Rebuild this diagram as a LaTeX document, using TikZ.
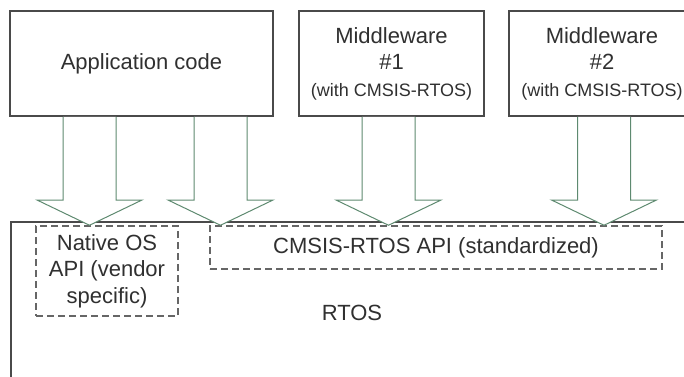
\documentclass[tikz,border=0pt]{standalone}
\usepackage{fontspec}
\setmainfont{Liberation Sans}
\definecolor{arrowgreen}{HTML}{5E8A70}
\definecolor{boxline}{HTML}{4A4A4A}
\definecolor{dashline}{HTML}{666666}
\definecolor{txt}{HTML}{303030}
\newcommand\blkarrow[3]{%
  \draw[blk] ({#1-26.5},0 |- #2.south) -- ({#1-26.5},200) -- ({#1-52.5},200)
    -- ({#1},0 |- #3.north) -- ({#1+52.5},200) -- ({#1+26.5},200)
    -- ({#1+26.5},0 |- #2.south);}
\begin{document}
\begin{tikzpicture}[x=1pt,y=-1pt,
  box/.style={draw=boxline,line width=1.5pt,fill=white,text=txt,align=center,inner sep=0pt},
  dbox/.style={draw=dashline,line width=1.5pt,dash pattern=on 7pt off 4pt,text=txt,align=center,inner sep=0pt},
  blk/.style={draw=arrowgreen,line width=1pt,fill=white,line join=miter},
  big/.style={font=\fontsize{22}{26.5}\selectfont},
]
\useasboundingbox (0,0) rectangle (684,376);
\clip (0,0) rectangle (684,376);
\node[box,big,minimum width=263pt,minimum height=105pt] (app) at (141.5,63.5) {Application code};
\node[box,big,minimum width=185pt,minimum height=105pt] (mw1) at (391.5,63.5)
  {Middleware\\\#1\\{\fontsize{18}{24}\selectfont (with CMSIS-RTOS)}};
\node[box,big,minimum width=186pt,minimum height=105pt] (mw2) at (602,63.5)
  {Middleware\\\#2\\{\fontsize{18}{24}\selectfont (with CMSIS-RTOS)}};
\node[box,minimum width=700pt,minimum height=200pt,anchor=north west] (rtos) at (10,221) {};
\node[dbox,big,minimum width=142pt,minimum height=90pt] (native) at (107,271)
  {Native OS\\API (vendor\\specific)};
\node[dbox,big,minimum width=452pt,minimum height=43pt] (cmsis) at (436,247.5)
  {CMSIS-RTOS API (standardized)};
\node[big,text=txt] (rtoslbl) at (352,313) {RTOS};
\blkarrow{89.5}{app}{native}
\blkarrow{220.5}{app}{cmsis}
\blkarrow{388.5}{mw1}{cmsis}
\blkarrow{604}{mw2}{cmsis}
\end{tikzpicture}
\end{document}
